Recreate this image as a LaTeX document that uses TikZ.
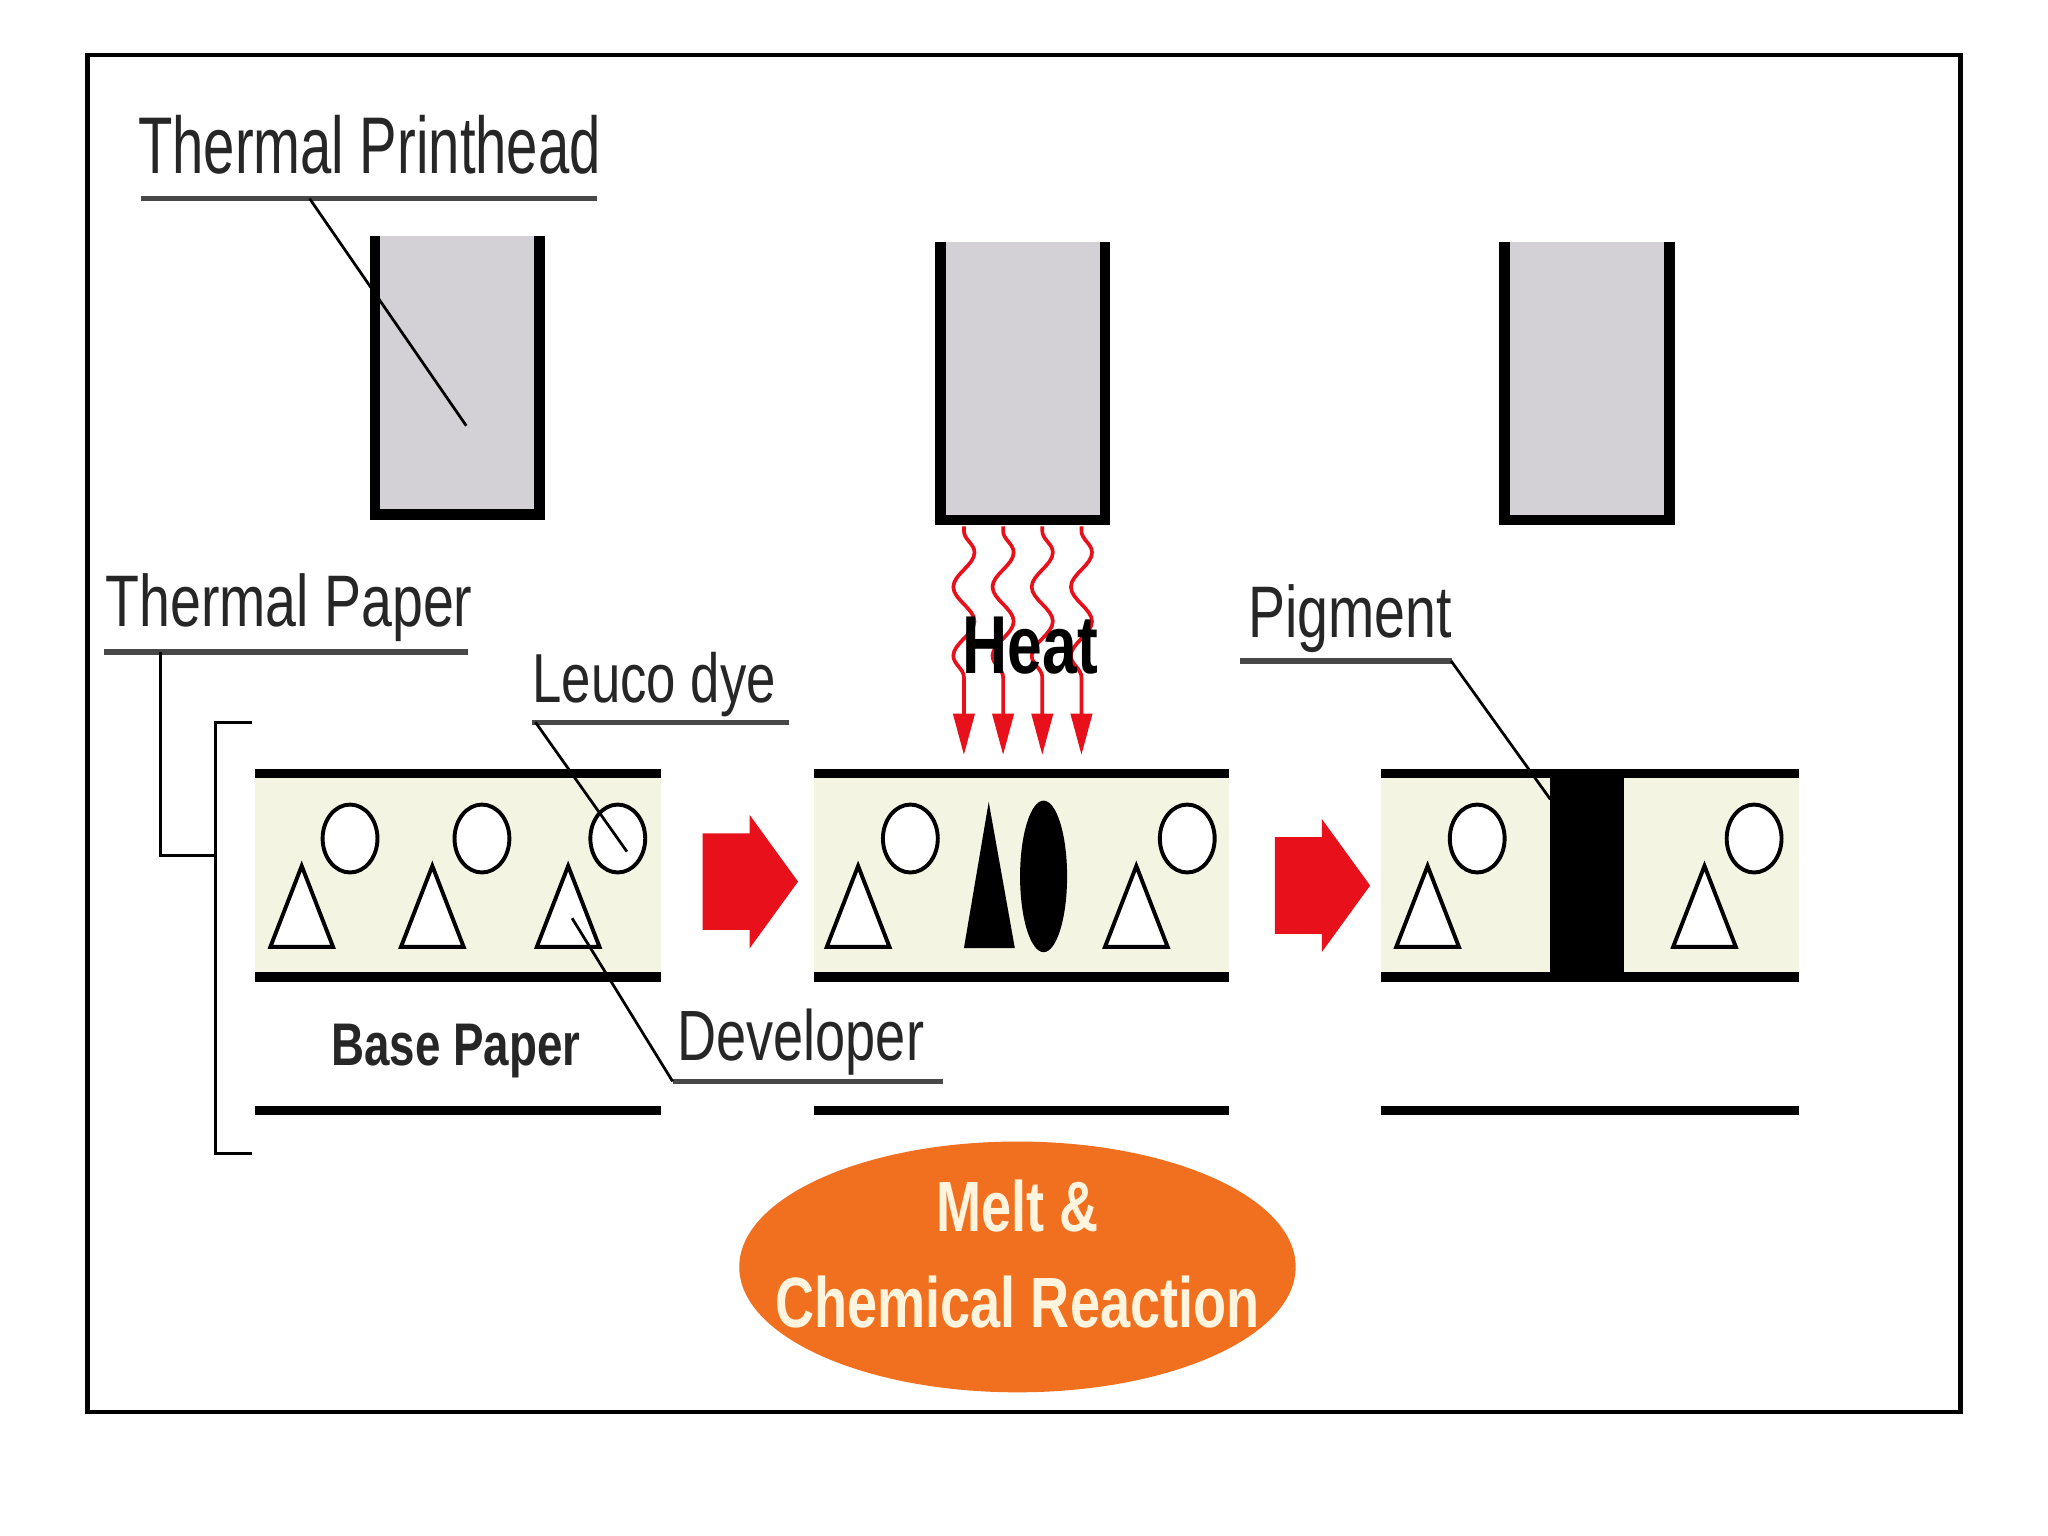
\documentclass[tikz,border=0pt]{standalone}
\usepackage{fontspec}
\setmainfont{Liberation Sans}[FakeStretch=0.76]
\newfontfamily\headfont{Liberation Sans}[FakeStretch=0.7]
\usetikzlibrary{arrows.meta,decorations.pathmorphing}
\definecolor{headgray}{RGB}{211,209,214}
\definecolor{papercream}{RGB}{244,244,226}
\definecolor{heatred}{RGB}{232,16,26}
\definecolor{meltorange}{RGB}{240,112,32}
\definecolor{meltcream}{RGB}{255,244,222}
\definecolor{ulinegray}{RGB}{72,72,72}

\begin{document}
\begin{tikzpicture}[x=0.01cm,y=-0.01cm,
    lbl/.style={inner sep=0pt,anchor=base west,text=black!85,font=\fontsize{15.6}{18}\selectfont},
    uline/.style={ulinegray,line width=1.2pt},
    leader/.style={line width=0.6pt},
    layer/.style={line width=2pt},
    dot/.style={line width=0.85pt,fill=white},
    wave/.style={heatred,line width=0.8pt,decorate,
      decoration={snake,amplitude=2.3pt,segment length=15pt,pre length=1pt,post length=10pt},
      -{Triangle[length=9pt,width=4.6pt]}}]
    \useasboundingbox[fill=white] (0,0) rectangle (1568,1176);
    \draw[line width=0.9pt] (67,42) rectangle (1501,1081);
    \foreach \x/\y in {283/181,716/185,1148/185}{
        \fill[headgray] (\x,\y) rectangle (\x+134,\y+217);
        \draw[line width=2.3pt] (\x+4,\y) -- (\x+4,\y+213) -- (\x+130,\y+213) -- (\x+130,\y);
    }
    \foreach \a/\b in {195/506,623/941,1057/1377}{
        \fill[papercream] (\a,592) rectangle (\b,748);
        \draw[layer] (\a,592) -- (\b,592) (\a,748) -- (\b,748) (\a,850) -- (\b,850);
    }
    \foreach \t/\c in {231/268,331/369,435/473,657/697,870/909,1093/1131,1305/1343}{
        \draw[dot] (\t,663) -- (\t-24,725) -- (\t+24,725) -- cycle;
        \draw[dot] (\c,642) ellipse (21 and 26);
    }
    \fill (757,614) -- (777,726) -- (738,726) -- cycle;
    \fill (799,671) ellipse (18 and 58);
    \fill (1187,592) rectangle (1243,748);
    \foreach \x/\y in {538/675,976/678}
        \fill[heatred] (\x,\y-37) -- (\x+36,\y-37) -- (\x+36,\y-51) -- (\x+73,\y)
            -- (\x+36,\y+51) -- (\x+36,\y+37) -- (\x,\y+37) -- cycle;
    \foreach \x in {738,768,798,828}
        \draw[wave] (\x,403) -- (\x,578);
    \node[inner sep=0pt,anchor=base,font=\bfseries\fontsize{17.9}{20}\selectfont] (heat) at (789,516) {Heat};

    \node[lbl,font=\headfont\fontsize{17.5}{20}\selectfont] (printhead) at (105,133) {Thermal Printhead};
    \coordinate (phFoot) at (237,152);
    \coordinate (phTip) at (357,326);
    \draw[uline] (108,152) -- (457,152);
    \draw[leader] (phFoot) -- (phTip);

    \node[lbl,font=\fontsize{15.9}{18}\selectfont] (paper) at (80,480) {Thermal Paper};
    \coordinate (paperFoot) at (123,499);
    \coordinate (bracket) at (165,655);
    \draw[uline] (80,499) -- (358,499);
    \draw[leader] (paperFoot) |- (bracket);
    \draw[line width=0.7pt] (193,553) -| (165,883) -- (193,883);

    \node[lbl,font=\fontsize{15.1}{18}\selectfont] (leuco) at (407,538) {Leuco dye};
    \coordinate (leucoFoot) at (410,553);
    \coordinate (leucoTip) at (480,652);
    \draw[uline] (407,553) -- (604,553);
    \draw[leader] (leucoFoot) -- (leucoTip);

    \node[lbl,font=\fontsize{15.5}{18}\selectfont] (developer) at (518,812) {Developer};
    \coordinate (devFoot) at (515,828);
    \coordinate (devTip) at (438,703);
    \draw[uline] (515,828) -- (722,828);
    \draw[leader] (devFoot) -- (devTip);

    \node[lbl,font=\fontsize{15.9}{18}\selectfont] (pigment) at (955,488) {Pigment};
    \coordinate (pigFoot) at (1111,506);
    \coordinate (pigTip) at (1187,612);
    \draw[uline] (949,506) -- (1112,506);
    \draw[leader] (pigFoot) -- (pigTip);

    \node[inner sep=0pt,anchor=base,text=black!85,font=\bfseries\fontsize{13.1}{16}\selectfont] (base) at (349,816) {Base Paper};

    \fill[meltorange] (779,970) ellipse (213 and 96);
    \node[align=center,text=meltcream,font=\bfseries\fontsize{15.5}{20.8}\selectfont] (melt) at (779,960) {Melt \&\\Chemical Reaction};
\end{tikzpicture}
\end{document}
